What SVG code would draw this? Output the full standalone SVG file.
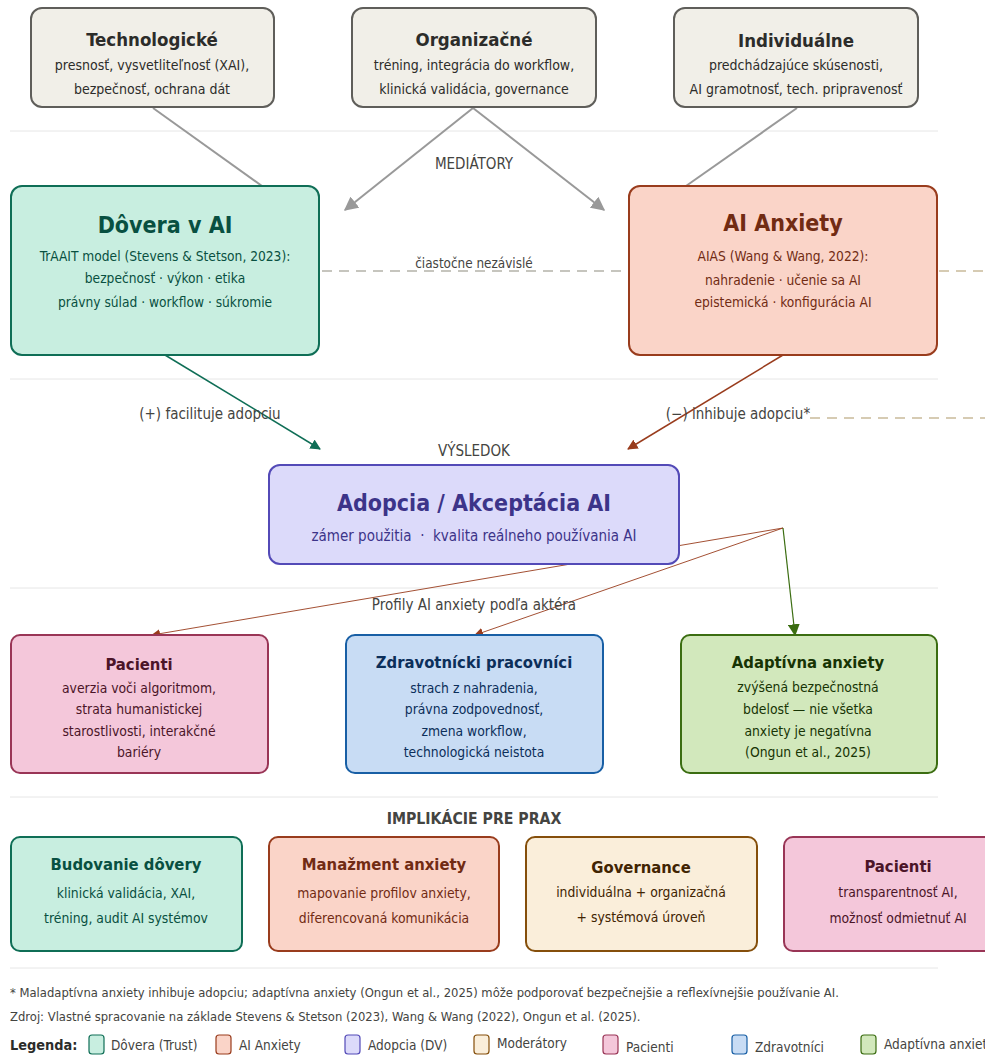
<svg xmlns="http://www.w3.org/2000/svg" width="985" height="1055" viewBox="0 0 985 1055">
<style>
text{font-family:"DejaVu Sans Condensed","DejaVu Sans",sans-serif;font-stretch:condensed;text-anchor:middle}
.t{font-weight:bold}
.sep{stroke:#e6e6e6;stroke-width:1}
.box{stroke-width:2}
.lab{font-size:15px;fill:#444441}
.s13{font-size:13.8px}
.s14{font-size:14px}
.sm{font-size:13.65px}
.s12{font-size:12.9px}
.leg{font-size:13.5px;fill:#444441;text-anchor:start}
.sw{stroke-width:1.2}
</style>
<defs>
<marker id="ag" viewBox="0 0 10 10" refX="9" refY="5" markerWidth="7" markerHeight="7" orient="auto"><path d="M0,0L10,5L0,10z" fill="#999999"/></marker>
<marker id="agr" viewBox="0 0 10 10" refX="9" refY="5" markerWidth="7" markerHeight="7" orient="auto"><path d="M0,0L10,5L0,10z" fill="#0f6e56"/></marker>
<marker id="ar" viewBox="0 0 10 10" refX="9" refY="5" markerWidth="7" markerHeight="7" orient="auto"><path d="M0,0L10,5L0,10z" fill="#993c1d"/></marker>
<marker id="ar2" viewBox="0 0 10 10" refX="9" refY="5" markerWidth="10" markerHeight="10" orient="auto"><path d="M0,0L10,5L0,10z" fill="#993c1d"/></marker>
<marker id="al" viewBox="0 0 10 10" refX="9" refY="5" markerWidth="10" markerHeight="10" orient="auto"><path d="M0,0L10,5L0,10z" fill="#3b6d11"/></marker>
</defs>
<rect width="985" height="1055" fill="#ffffff"/>
<g id="separators">
<line class="sep" x1="10" y1="131" x2="938" y2="131"/>
<line class="sep" x1="10" y1="379" x2="938" y2="379"/>
<line class="sep" x1="10" y1="588" x2="938" y2="588"/>
<line class="sep" x1="10" y1="797" x2="938" y2="797"/>
<line class="sep" x1="10" y1="968" x2="938" y2="968"/>
</g>
<g id="connectors">
<line x1="153" y1="108" x2="262" y2="186" stroke="#999999" stroke-width="2"/>
<line x1="473" y1="108" x2="345" y2="210" stroke="#999999" stroke-width="2" marker-end="url(#ag)"/>
<line x1="473" y1="108" x2="604" y2="210" stroke="#999999" stroke-width="2" marker-end="url(#ag)"/>
<line x1="797" y1="108" x2="686" y2="186" stroke="#999999" stroke-width="2"/>
<line x1="322" y1="271" x2="626" y2="271" stroke="#b4b2a9" stroke-width="1.5" stroke-dasharray="10 7"/>
<line x1="939" y1="271" x2="985" y2="271" stroke="#c9bb9a" stroke-width="1.5" stroke-dasharray="10 7"/>
<line x1="810" y1="418" x2="985" y2="418" stroke="#c9bb9a" stroke-width="1.5" stroke-dasharray="10 7"/>
<line x1="165" y1="355" x2="320" y2="449" stroke="#0f6e56" stroke-width="1.5" marker-end="url(#agr)"/>
<line x1="783" y1="355" x2="628" y2="449" stroke="#993c1d" stroke-width="1.5" marker-end="url(#ar)"/>
<line x1="783" y1="528" x2="152" y2="635" stroke="#993c1d" stroke-width="0.9" marker-end="url(#ar2)"/>
<line x1="783" y1="528" x2="475" y2="635" stroke="#993c1d" stroke-width="0.9" marker-end="url(#ar2)"/>
<line x1="783" y1="528" x2="795" y2="635" stroke="#3b6d11" stroke-width="1.2" marker-end="url(#al)"/>
</g>
<g id="labels">
<text class="lab" x="474" y="169">MEDIÁTORY</text>
<text x="474" y="268" font-size="13.4" fill="#444441">čiastočne nezávislé</text>
<text class="lab" x="210" y="419">(+) facilituje adopciu</text>
<text class="lab" x="738" y="419">(−) inhibuje adopciu*</text>
<text class="lab" x="474" y="456">VÝSLEDOK</text>
<text class="lab" x="474" y="610">Profily AI anxiety podľa aktéra</text>
<text class="t" x="474" y="824" font-size="15.7" fill="#444441">IMPLIKÁCIE PRE PRAX</text>
</g>
<g id="n-tech">
<rect class="box" x="31" y="8" width="243" height="99" rx="11" fill="#f1efe8" stroke="#5f5e5a"/>
<text class="t" x="152" y="46" font-size="18.5" fill="#2c2c2a">Technologické</text>
<text class="s14" x="152" y="70" fill="#2c2c2a">presnosť, vysvetliteľnosť (XAI),</text>
<text class="s14" x="152" y="94" fill="#2c2c2a">bezpečnosť, ochrana dát</text>
</g>
<g id="n-org">
<rect class="box" x="352" y="8" width="244" height="99" rx="11" fill="#f1efe8" stroke="#5f5e5a"/>
<text class="t" x="474" y="46" font-size="18.5" fill="#2c2c2a">Organizačné</text>
<text class="s14" x="474" y="70" fill="#2c2c2a">tréning, integrácia do workflow,</text>
<text class="s14" x="474" y="94" fill="#2c2c2a">klinická validácia, governance</text>
</g>
<g id="n-ind">
<rect class="box" x="674" y="8" width="244" height="99" rx="11" fill="#f1efe8" stroke="#5f5e5a"/>
<text class="t" x="796" y="47" font-size="18.5" fill="#2c2c2a">Individuálne</text>
<text class="s14" x="796" y="70" fill="#2c2c2a">predchádzajúce skúsenosti,</text>
<text class="s14" x="796" y="94" fill="#2c2c2a">AI gramotnosť, tech. pripravenosť</text>
</g>
<g id="n-trust">
<rect class="box" x="11" y="186" width="308" height="169" rx="11" fill="#c8eee0" stroke="#0f6e56"/>
<text class="t" x="165" y="233" font-size="23" fill="#085041">Dôvera v AI</text>
<text class="sm" x="165" y="261" fill="#085041">TrAAIT model (Stevens &amp; Stetson, 2023):</text>
<text class="sm" x="165" y="283" fill="#085041">bezpečnosť · výkon · etika</text>
<text class="sm" x="165" y="307" fill="#085041">právny súlad · workflow · súkromie</text>
</g>
<g id="n-anx">
<rect class="box" x="629" y="186" width="308" height="169" rx="11" fill="#fad4c8" stroke="#993c1d"/>
<text class="t" x="783" y="231" font-size="23" fill="#712b13">AI Anxiety</text>
<text class="sm" x="783" y="261" fill="#712b13">AIAS (Wang &amp; Wang, 2022):</text>
<text class="sm" x="783" y="285" fill="#712b13">nahradenie · učenie sa AI</text>
<text class="sm" x="783" y="307" fill="#712b13">epistemická · konfigurácia AI</text>
</g>
<g id="n-adop">
<rect class="box" x="269" y="465" width="410" height="99" rx="11" fill="#dcdafa" stroke="#534ab7"/>
<text class="t" x="474" y="511" font-size="23" fill="#3c3489">Adopcia / Akceptácia AI</text>
<text x="474" y="541" font-size="15" fill="#3c3489" xml:space="preserve">zámer použitia  ·  kvalita reálneho používania AI</text>
</g>
<g id="n-pac">
<rect class="box" x="11" y="635" width="257" height="138" rx="9" fill="#f4c7da" stroke="#993556"/>
<text class="t" x="139" y="670" font-size="16.5" fill="#4b1528">Pacienti</text>
<text class="s13" x="139" y="693" fill="#4b1528">averzia voči algoritmom,</text>
<text class="s13" x="139" y="714" fill="#4b1528">strata humanistickej</text>
<text class="s13" x="139" y="736" fill="#4b1528">starostlivosti, interakčné</text>
<text class="s13" x="139" y="757" fill="#4b1528">bariéry</text>
</g>
<g id="n-zdr">
<rect class="box" x="346" y="635" width="257" height="138" rx="9" fill="#c8dcf4" stroke="#185fa5"/>
<text class="t" x="474" y="668" font-size="16.5" fill="#0c2f5a">Zdravotnícki pracovníci</text>
<text class="s13" x="474" y="693" fill="#0c2f5a">strach z nahradenia,</text>
<text class="s13" x="474" y="714" fill="#0c2f5a">právna zodpovednosť,</text>
<text class="s13" x="474" y="736" fill="#0c2f5a">zmena workflow,</text>
<text class="s13" x="474" y="757" fill="#0c2f5a">technologická neistota</text>
</g>
<g id="n-adapt">
<rect class="box" x="681" y="635" width="256" height="138" rx="9" fill="#d2e8bc" stroke="#3b6d11"/>
<text class="t" x="808" y="668" font-size="16.5" fill="#173404">Adaptívna anxiety</text>
<text class="s13" x="808" y="692" fill="#173404">zvýšená bezpečnostná</text>
<text class="s13" x="808" y="714" fill="#173404">bdelosť — nie všetka</text>
<text class="s13" x="808" y="736" fill="#173404">anxiety je negatívna</text>
<text class="s13" x="808" y="757" fill="#173404">(Ongun et al., 2025)</text>
</g>
<g id="n-imp1">
<rect class="box" x="11" y="837" width="231" height="114" rx="9" fill="#c8eee0" stroke="#0f6e56"/>
<text class="t" x="126" y="870" font-size="16.5" fill="#085041">Budovanie dôvery</text>
<text class="s13" x="126" y="898" fill="#085041">klinická validácia, XAI,</text>
<text class="s13" x="126" y="923" fill="#085041">tréning, audit AI systémov</text>
</g>
<g id="n-imp2">
<rect class="box" x="269" y="837" width="230" height="114" rx="9" fill="#fad4c8" stroke="#993c1d"/>
<text class="t" x="384" y="870" font-size="16.5" fill="#712b13">Manažment anxiety</text>
<text class="s13" x="384" y="898" fill="#712b13">mapovanie profilov anxiety,</text>
<text class="s13" x="384" y="923" fill="#712b13">diferencovaná komunikácia</text>
</g>
<g id="n-imp3">
<rect class="box" x="526" y="837" width="231" height="114" rx="9" fill="#faeeda" stroke="#854f0b"/>
<text class="t" x="641" y="873" font-size="16.5" fill="#412402">Governance</text>
<text class="s13" x="641" y="897" fill="#412402">individuálna + organizačná</text>
<text class="s13" x="641" y="922" fill="#412402">+ systémová úroveň</text>
</g>
<g id="n-imp4">
<rect class="box" x="784" y="837" width="230" height="114" rx="9" fill="#f4c7da" stroke="#993556"/>
<text class="t" x="898" y="872" font-size="16.5" fill="#4b1528">Pacienti</text>
<text class="s13" x="898" y="897" fill="#4b1528">transparentnosť AI,</text>
<text class="s13" x="898" y="923" fill="#4b1528">možnosť odmietnuť AI</text>
</g>
<g id="footer">
<text class="s12" x="10" y="997" fill="#444441" style="text-anchor:start">* Maladaptívna anxiety inhibuje adopciu; adaptívna anxiety (Ongun et al., 2025) môže podporovať bezpečnejšie a reflexívnejšie používanie AI.</text>
<text class="s12" x="10" y="1021" fill="#444441" style="text-anchor:start">Zdroj: Vlastné spracovanie na základe Stevens &amp; Stetson (2023), Wang &amp; Wang (2022), Ongun et al. (2025).</text>
</g>
<g id="legend">
<text class="t" x="10" y="1050" font-size="14.4" fill="#2c2c2a" style="text-anchor:start">Legenda:</text>
<rect class="sw" x="89" y="1035" width="15" height="19" rx="3" fill="#c8eee0" stroke="#0f6e56"/>
<text class="leg" x="111" y="1050">Dôvera (Trust)</text>
<rect class="sw" x="216" y="1035" width="15" height="19" rx="3" fill="#fad4c8" stroke="#993c1d"/>
<text class="leg" x="239" y="1050">AI Anxiety</text>
<rect class="sw" x="345" y="1035" width="15" height="19" rx="3" fill="#dcdafa" stroke="#534ab7"/>
<text class="leg" x="368" y="1050">Adopcia (DV)</text>
<rect class="sw" x="474" y="1035" width="15" height="19" rx="3" fill="#faeeda" stroke="#854f0b"/>
<text class="leg" x="497" y="1048">Moderátory</text>
<rect class="sw" x="603" y="1035" width="15" height="19" rx="3" fill="#f4c7da" stroke="#993556"/>
<text class="leg" x="626" y="1052">Pacienti</text>
<rect class="sw" x="732" y="1035" width="15" height="19" rx="3" fill="#c8dcf4" stroke="#185fa5"/>
<text class="leg" x="755" y="1052">Zdravotníci</text>
<rect class="sw" x="861" y="1035" width="15" height="19" rx="3" fill="#d2e8bc" stroke="#3b6d11"/>
<text class="leg" x="884" y="1049">Adaptívna anxiety</text>
</g>
</svg>
